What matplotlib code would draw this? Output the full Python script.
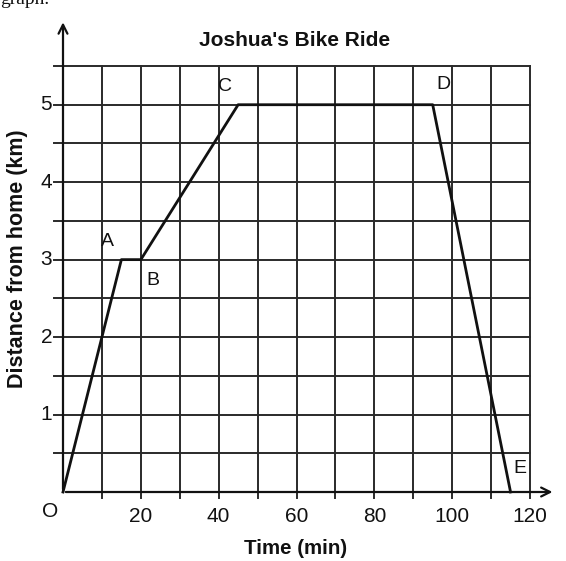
import matplotlib
matplotlib.use("Agg")
import matplotlib.pyplot as plt

plt.rcParams['font.family'] = ['Liberation Sans', 'DejaVu Sans']

time_min = [0, 15, 20, 45, 95, 115]
distance_km = [0, 3, 3, 5, 5, 0]
point_labels = ["O", "A", "B", "C", "D", "E"]
label_pos = {"A": (11.3, 3.23), "B": (23.0, 2.73), "C": (41.6, 5.24),
             "D": (97.8, 5.26), "E": (117.5, 0.3)}
x_ticks = [20, 40, 60, 80, 100, 120]
y_ticks = [1, 2, 3, 4, 5]

W, H = 566, 561
fig = plt.figure(figsize=(W / 100, H / 100), dpi=100)
ax = fig.add_axes([63 / W, 69 / H, (530 - 63) / W, (492 - 66) / H])
ax.set_xlim(0, 120)
ax.set_ylim(0, 5.5)

gc = '#2a2a2a'
for x in range(10, 121, 10):
    ax.plot([x, x], [-0.08, 5.5], color=gc, lw=1.4, clip_on=False)
for i in range(1, 12):
    y = i * 0.5
    ax.plot([-2.2, 120], [y, y], color=gc, lw=1.4, clip_on=False)

for s in ax.spines.values():
    s.set_visible(False)
ax.set_xticks([])
ax.set_yticks([])

# axes with arrows
ax.annotate('', xy=(0, 6.1), xytext=(0, 0), xycoords='data',
            arrowprops=dict(arrowstyle='->', lw=1.6, color='#111', mutation_scale=16),
            annotation_clip=False)
ax.annotate('', xy=(126.5, 0), xytext=(0, 0), xycoords='data',
            arrowprops=dict(arrowstyle='->', lw=1.6, color='#111', mutation_scale=16),
            annotation_clip=False)

ax.plot(time_min, distance_km, color='#111', lw=2.0, clip_on=False, zorder=5)

for lab, (lx, ly) in label_pos.items():
    ax.text(lx, ly, lab, fontsize=14, ha='center', va='center', color='#111')
ax.text(-3.3, -0.25, "O", fontsize=15, ha='center', va='center', color='#111')

for xt in x_ticks:
    ax.text(xt, -0.32, str(xt), fontsize=15, ha='center', va='center', color='#111')
for yt in y_ticks:
    ax.text(-2.8, yt, str(yt), fontsize=15, ha='right', va='center', color='#111')

fig.text(295 / W, 1 - 41 / H, "Joshua's Bike Ride", fontsize=15, fontweight='bold',
         ha='center', va='center', color='#111')
fig.text(296 / W, 1 - 548 / H, "Time (min)", fontsize=14.8, fontweight='bold',
         ha='center', va='center', color='#111')
fig.text(18 / W, 1 - 259 / H, "Distance from home (km)", fontsize=15.5, fontweight='bold',
         ha='center', va='center', rotation=90, color='#111')
fig.text(0.0, 1.0, "graph.", fontsize=14, family='Liberation Serif', ha='left',
         va='center', color='#111')

fig.savefig("out.png", dpi=100)
